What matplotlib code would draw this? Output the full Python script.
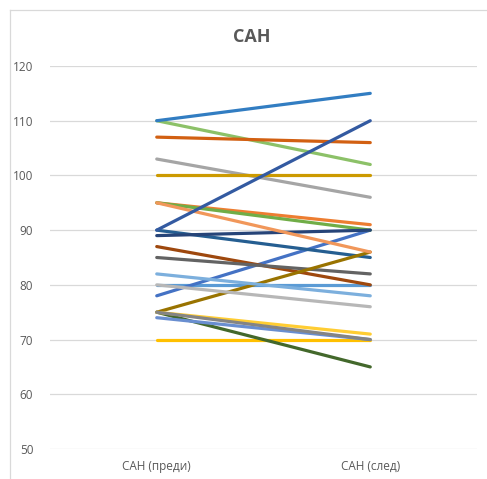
import matplotlib
matplotlib.use("Agg")
import matplotlib.pyplot as plt
from matplotlib.lines import Line2D

plt.rcParams['font.family'] = ['Open Sans', 'DejaVu Sans']

categories = ["САН (преди)", "САН (след)"]
before = [80, 95, 103, 70, 78, 95, 90, 87, 85, 75, 89, 75, 82, 95, 80, 75, 74, 110, 110, 107, 75, 100, 90]
after = [80, 91, 96, 70, 90, 90, 85, 80, 82, 86, 90, 65, 78, 86, 76, 71, 70, 102, 115, 106, 70, 100, 110]
colors = ["#5B9BD5", "#ED7D31", "#A5A5A5", "#FFC000", "#4472C4", "#70AD47",
          "#255E91", "#9E480E", "#636363", "#997300", "#264478", "#43682B",
          "#7CAFDD", "#F1975A", "#B7B7B7", "#FFCD33", "#698ED0", "#8CC168",
          "#327DC2", "#D26012", "#848484", "#CC9A00", "#335AA1"]
yticks = [50, 60, 70, 80, 90, 100, 110, 120]

W, H = 487, 479
fig = plt.figure(figsize=(W / 100, H / 100), dpi=100)
ax = fig.add_axes([50 / W, (H - 449) / H, 427 / W, (449 - 66) / H])

x = list(range(len(categories)))
for b, a, c in zip(before, after, colors):
    ax.plot(x, [b, a], color=c, linewidth=2.3, solid_capstyle='round', zorder=3)

ax.set_xlim(-0.5, 1.5)
ax.set_ylim(50, 120)
ax.set_yticks(yticks)
ax.set_xticks(x)
ax.set_xticklabels(categories)
ax.grid(axis='y', color='#D9D9D9', linewidth=0.9, zorder=0)
ax.tick_params(axis='both', length=0, labelsize=8.5, colors='#595959')
ax.tick_params(axis='y', pad=12)
ax.tick_params(axis='x', pad=8)
for s in ax.spines.values():
    s.set_visible(False)

fig.text(252 / W, 1 - 37 / H, "САН", ha='center', va='center',
         fontsize=13, fontweight='bold', color='#595959')

# chart-area frame
fx0, fy0 = 10 / W, 1 - 10 / H
fig.add_artist(Line2D([fx0, fx0], [fy0, 0], color='#D9D9D9', linewidth=0.9))
fig.add_artist(Line2D([fx0, 1], [fy0, fy0], color='#D9D9D9', linewidth=0.9))

fig.savefig("out.png", dpi=100)
